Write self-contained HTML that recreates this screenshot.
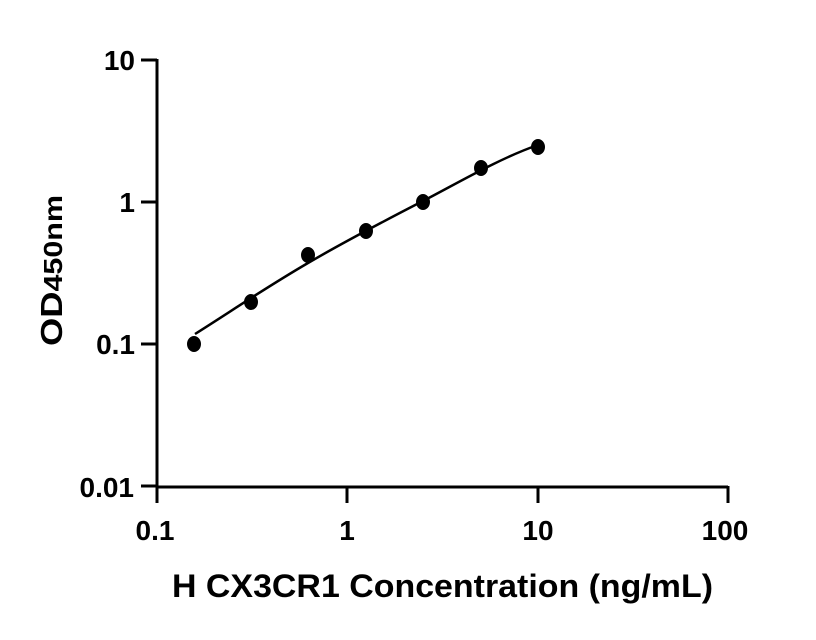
<!DOCTYPE html>
<html><head><meta charset="utf-8"><style>body{margin:0;background:#fff}svg{display:block}</style></head><body>
<svg width="816" height="640" viewBox="0 0 816 640" xmlns="http://www.w3.org/2000/svg" font-family="Liberation Sans, Arial, sans-serif" font-weight="bold">
<g stroke="#000" stroke-width="3" fill="none">
<path d="M157,59 V487 H728"/>
<path d="M141,60 H157 M141,202 H157 M141,344 H157 M141,486 H157"/>
<path d="M157,486 V503 M347,486 V503 M538,486 V503 M728,486 V503"/>
</g>
<path d="M195,334 C230,312 265,288 308,263 S390,218 423,201 S500,158 538,145" stroke="#000" stroke-width="2.5" fill="none"/>
<g fill="#000">
<ellipse cx="194" cy="344" rx="7" ry="8"/>
<ellipse cx="251" cy="302" rx="7" ry="8"/>
<ellipse cx="308" cy="255" rx="7" ry="8"/>
<ellipse cx="366" cy="231" rx="7" ry="8"/>
<ellipse cx="423" cy="202" rx="7" ry="8"/>
<ellipse cx="481" cy="168" rx="7" ry="8"/>
<ellipse cx="538" cy="147" rx="7" ry="8"/>
</g>
<g font-size="28" text-anchor="end">
<text x="135" y="70">10</text>
<text x="135" y="212">1</text>
<text x="135" y="354">0.1</text>
<text x="134" y="497">0.01</text>
</g>
<g font-size="28" text-anchor="middle">
<text x="155" y="540">0.1</text>
<text x="347" y="540">1</text>
<text x="538" y="540">10</text>
<text x="725" y="540">100</text>
</g>
<text x="172" y="597" font-size="32" textLength="541" lengthAdjust="spacingAndGlyphs">H CX3CR1 Concentration (ng/mL)</text>
<text transform="translate(62,346) rotate(-90)" font-size="31" textLength="151" lengthAdjust="spacingAndGlyphs">OD<tspan font-size="26">450nm</tspan></text>
</svg>
</body></html>
